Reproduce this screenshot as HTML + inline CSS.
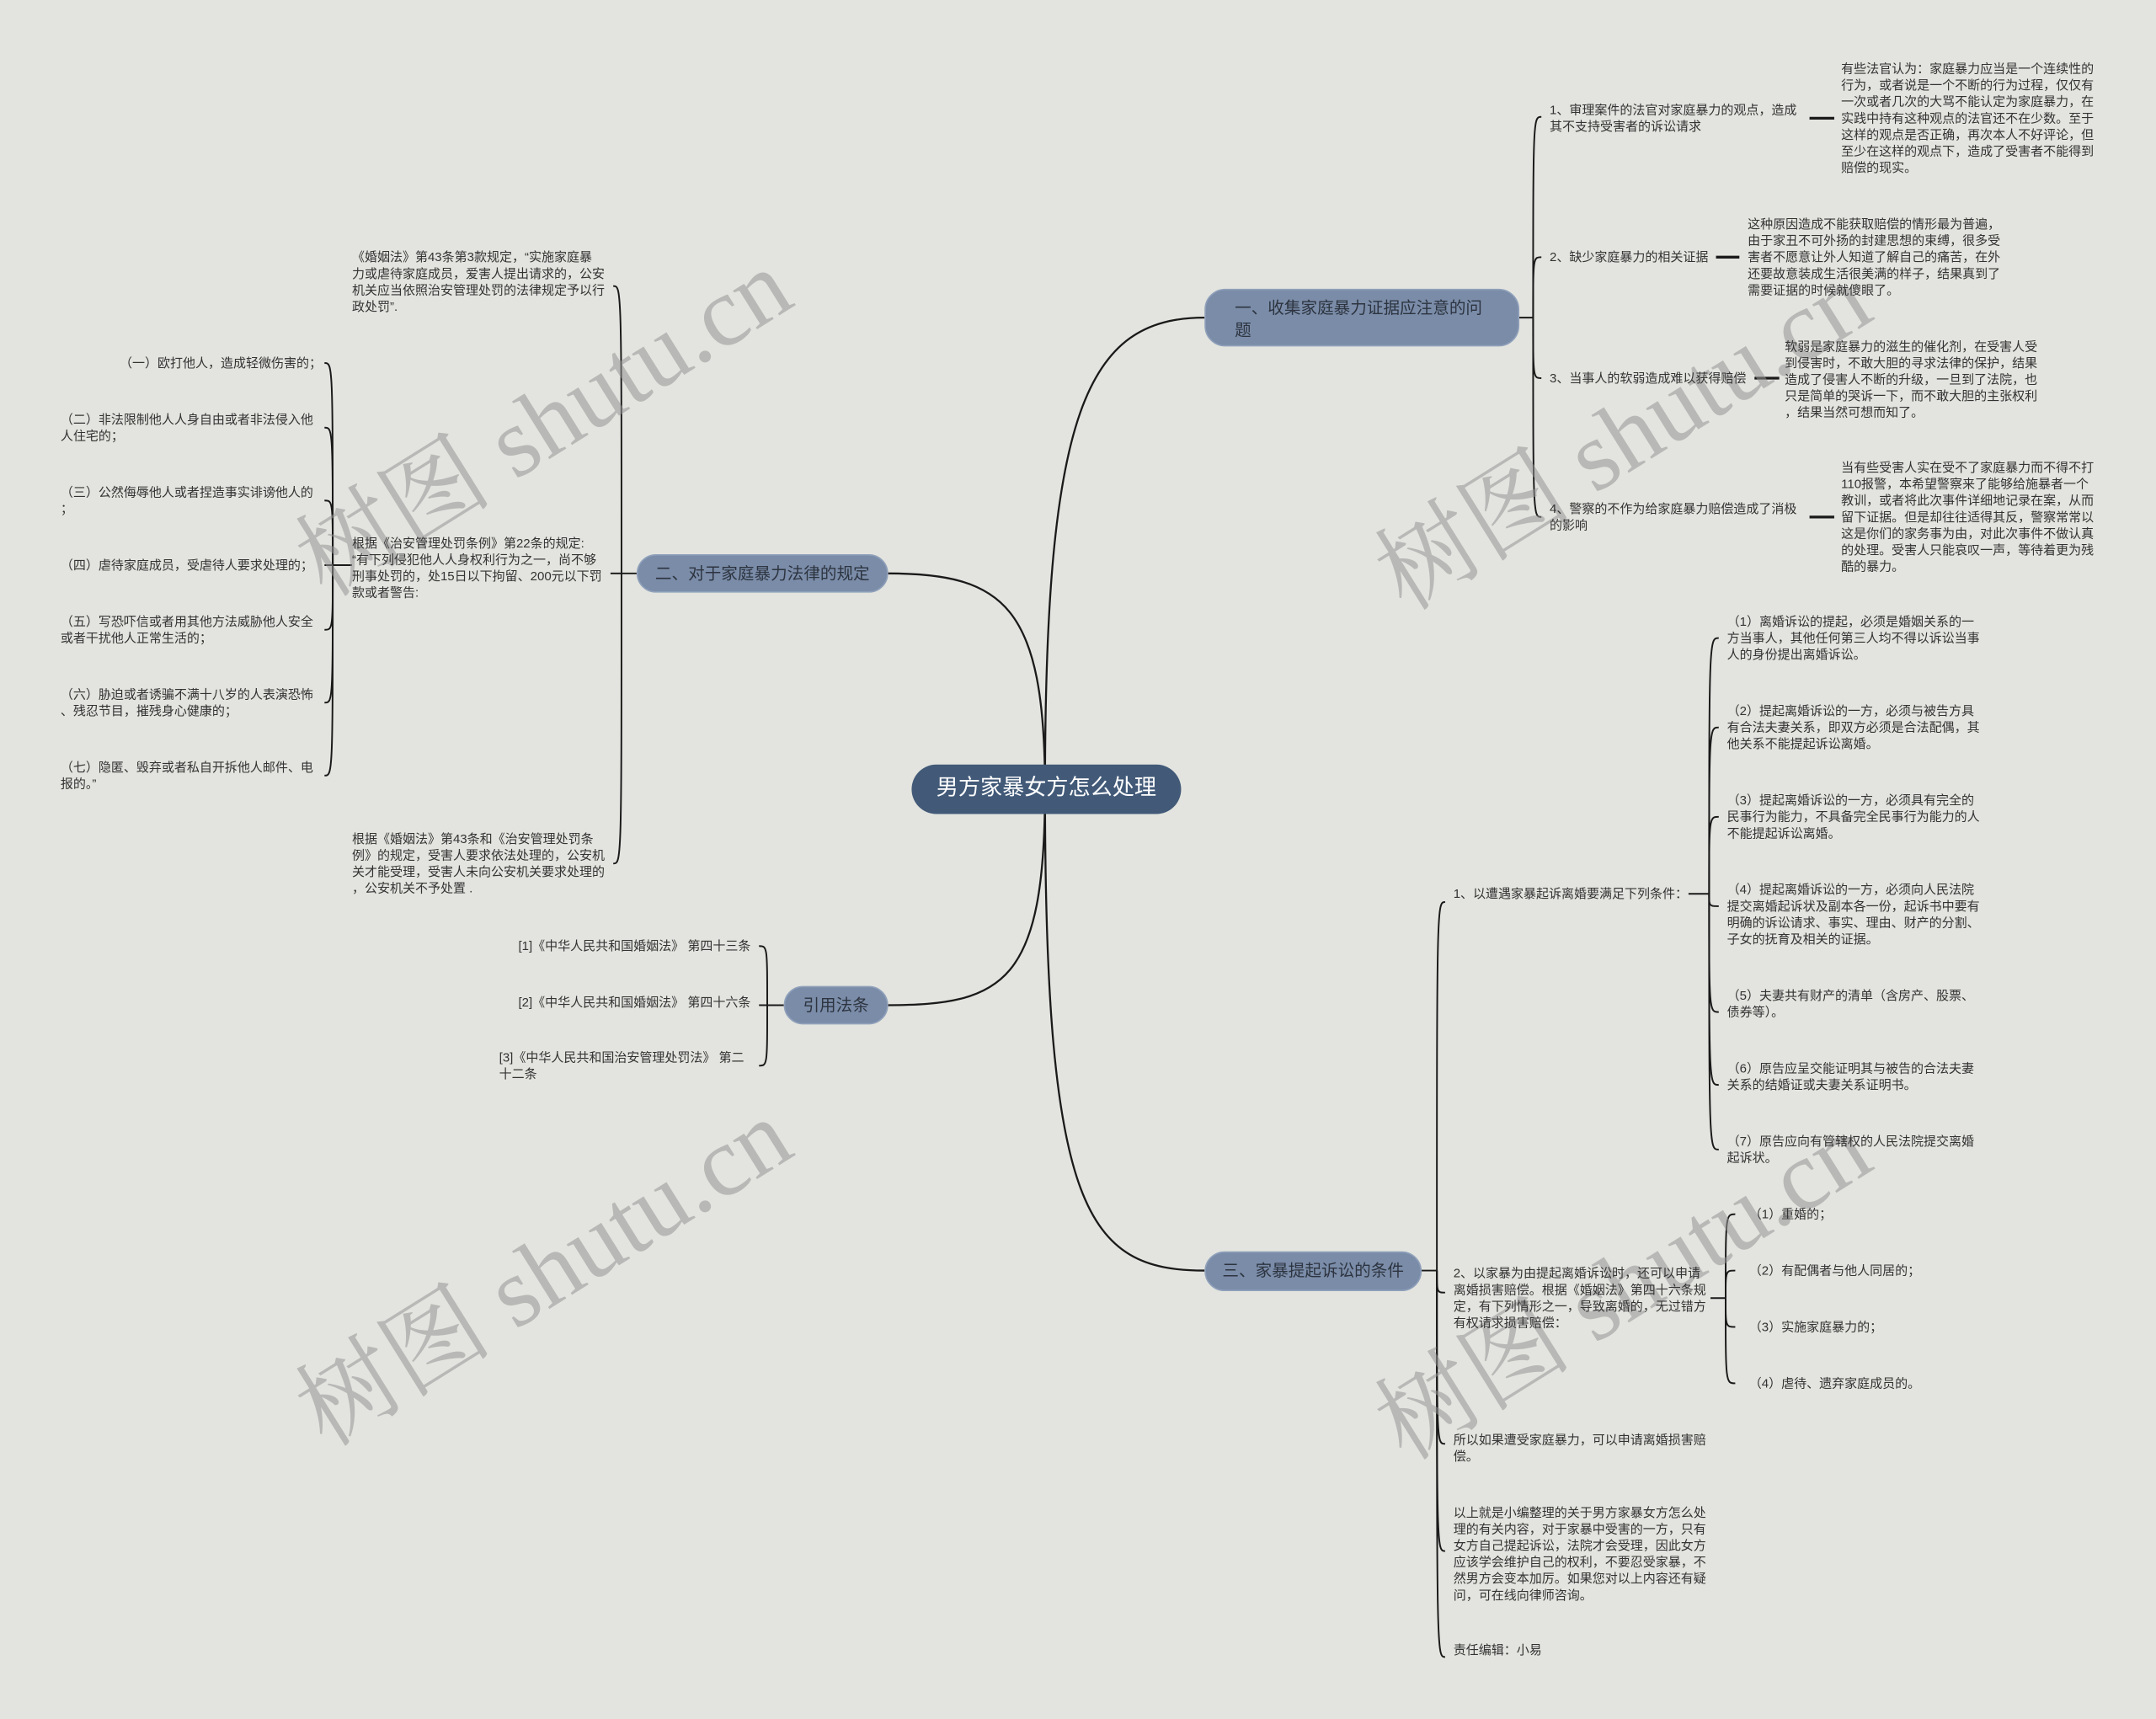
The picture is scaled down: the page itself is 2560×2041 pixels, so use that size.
<!DOCTYPE html>
<html><head><meta charset="utf-8">
<style>
html,body{margin:0;padding:0;}
body{width:2560px;height:2041px;overflow:hidden;background:#e3e4df;}
#c{position:absolute;left:0;top:0;width:1568px;height:1250px;transform:scale(1.632653);transform-origin:0 0;font-family:"Liberation Sans","Noto Sans CJK SC",sans-serif;color:#333;}
.t{position:absolute;font-size:9.2px;line-height:12px;white-space:nowrap;}
.n{position:absolute;background:#7a8ca8;border-radius:15px;font-size:12px;color:#2d3440;box-sizing:border-box;border:1px solid #8fa0ba;}
.wm{position:absolute;font-family:"Liberation Serif","Noto Serif CJK SC",serif;font-size:72px;color:rgba(150,150,150,0.55);white-space:nowrap;transform:rotate(-32deg);transform-origin:center;}
svg{position:absolute;left:0;top:0;}
</style></head><body><div id="c">
<svg width="1568" height="1250" viewBox="0 0 1568 1250" fill="none" stroke="#1a1a1a" stroke-width="1.4">
<path d="M760 574 C760 300 790 231 876 231"/>
<path d="M760 574 C760 440 730 417 645 417"/>
<path d="M760 574 C760 715 730 731 645 731"/>
<path d="M760 574 C760 880 790 924 876 924"/>
<g stroke-width="1.2">
<path d="M1104 231 H1115"/>
<path d="M1115 231 C1115 85 1115 85 1121 85"/>
<path d="M1115 231 C1115 187 1115 187 1121 187"/>
<path d="M1115 231 C1115 275 1115 275 1121 275"/>
<path d="M1115 231 C1115 376 1115 376 1121 376"/>
<path d="M463 417 H452"/>
<path d="M452 417 C452 208 452 208 446 208"/>
<path d="M452 417 H444"/>
<path d="M452 417 C452 628 452 628 446 628"/>
<path d="M256 411 H242"/>
<path d="M242 411 C242 264 242 264 236 264"/>
<path d="M242 411 C242 311 242 311 236 311"/>
<path d="M242 411 C242 364 242 364 236 364"/>
<path d="M242 411 H236"/>
<path d="M242 411 C242 458 242 458 236 458"/>
<path d="M242 411 C242 511 242 511 236 511"/>
<path d="M242 411 C242 564 242 564 236 564"/>
<path d="M570 731 H558"/>
<path d="M558 731 C558 688 558 688 552 688"/>
<path d="M558 731 H552"/>
<path d="M558 731 C558 775 558 775 552 775"/>
<path d="M1033 924 H1045"/>
<path d="M1045 924 C1045 656 1045 656 1051 656"/>
<path d="M1045 924 C1045 940 1045 940 1051 940"/>
<path d="M1045 924 C1045 1050 1045 1050 1051 1050"/>
<path d="M1045 924 C1045 1128 1045 1128 1051 1128"/>
<path d="M1045 924 C1045 1205 1045 1205 1051 1205"/>
<path d="M1228 650 H1243"/>
<path d="M1243 650 C1243 464 1243 464 1250 464"/>
<path d="M1243 650 C1243 529 1243 529 1250 529"/>
<path d="M1243 650 C1243 594 1243 594 1250 594"/>
<path d="M1243 650 C1243 659 1243 659 1250 659"/>
<path d="M1243 650 C1243 736 1243 736 1250 736"/>
<path d="M1243 650 C1243 789 1243 789 1250 789"/>
<path d="M1243 650 C1243 836 1243 836 1250 836"/>
<path d="M1244 944 H1255"/>
<path d="M1255 944 C1255 883 1255 883 1262 883"/>
<path d="M1255 944 C1255 924 1255 924 1262 924"/>
<path d="M1255 944 C1255 965 1255 965 1262 965"/>
<path d="M1255 944 C1255 1006 1255 1006 1262 1006"/>
</g>
<g stroke-width="2">
<path d="M1316 86 H1334"/>
<path d="M1248 187 H1265"/>
<path d="M1276 275 H1294"/>
<path d="M1316 376 H1334"/>
</g>
</svg>

<div class="wm" style="left:190px;top:250px;">树图 shutu.cn</div>
<div class="wm" style="left:975px;top:260px;">树图 shutu.cn</div>
<div class="wm" style="left:190px;top:868px;">树图 shutu.cn</div>
<div class="wm" style="left:975px;top:878px;">树图 shutu.cn</div>

<div style="position:absolute;left:663px;top:556px;width:196px;height:36px;background:#425a78;border-radius:18px;color:#fff;font-size:16px;line-height:36px;text-align:center;">男方家暴女方怎么处理</div>

<div class="n" style="left:876px;top:210px;width:229px;height:42px;padding:5px 0 0 21px;line-height:16px;">一、收集家庭暴力证据应注意的问<br>题</div>
<div class="n" style="left:463px;top:403px;width:183px;height:28px;line-height:26px;text-align:center;">二、对于家庭暴力法律的规定</div>
<div class="n" style="left:570px;top:717px;width:76px;height:28px;line-height:26px;text-align:center;">引用法条</div>
<div class="n" style="left:876px;top:910px;width:158px;height:29px;line-height:27px;text-align:center;">三、家暴提起诉讼的条件</div>

<div class="t" style="left:1127px;top:74px;">1、审理案件的法官对家庭暴力的观点，造成<br>其不支持受害者的诉讼请求</div>
<div class="t" style="left:1339px;top:44px;">有些法官认为：家庭暴力应当是一个连续性的<br>行为，或者说是一个不断的行为过程，仅仅有<br>一次或者几次的大骂不能认定为家庭暴力，在<br>实践中持有这种观点的法官还不在少数。至于<br>这样的观点是否正确，再次本人不好评论，但<br>至少在这样的观点下，造成了受害者不能得到<br>赔偿的现实。</div>
<div class="t" style="left:1127px;top:181px;">2、缺少家庭暴力的相关证据</div>
<div class="t" style="left:1271px;top:157px;">这种原因造成不能获取赔偿的情形最为普遍，<br>由于家丑不可外扬的封建思想的束缚，很多受<br>害者不愿意让外人知道了解自己的痛苦，在外<br>还要故意装成生活很美满的样子，结果真到了<br>需要证据的时候就傻眼了。</div>
<div class="t" style="left:1127px;top:269px;">3、当事人的软弱造成难以获得赔偿</div>
<div class="t" style="left:1298px;top:246px;">软弱是家庭暴力的滋生的催化剂，在受害人受<br>到侵害时，不敢大胆的寻求法律的保护，结果<br>造成了侵害人不断的升级，一旦到了法院，也<br>只是简单的哭诉一下，而不敢大胆的主张权利<br>，结果当然可想而知了。</div>
<div class="t" style="left:1127px;top:364px;">4、警察的不作为给家庭暴力赔偿造成了消极<br>的影响</div>
<div class="t" style="left:1339px;top:334px;">当有些受害人实在受不了家庭暴力而不得不打<br>110报警，本希望警察来了能够给施暴者一个<br>教训，或者将此次事件详细地记录在案，从而<br>留下证据。但是却往往适得其反，警察常常以<br>这是你们的家务事为由，对此次事件不做认真<br>的处理。受害人只能哀叹一声，等待着更为残<br>酷的暴力。</div>

<div class="t" style="left:256px;top:181px;">《婚姻法》第43条第3款规定，“实施家庭暴<br>力或虐待家庭成员，爱害人提出请求的，公安<br>机关应当依照治安管理处罚的法律规定予以行<br>政处罚”.</div>
<div class="t" style="left:256px;top:389px;">根据《治安管理处罚条例》第22条的规定:<br>“有下列侵犯他人人身权利行为之一，尚不够<br>刑事处罚的，处15日以下拘留、200元以下罚<br>款或者警告:</div>
<div class="t" style="left:256px;top:604px;">根据《婚姻法》第43条和《治安管理处罚条<br>例》的规定，受害人要求依法处理的，公安机<br>关才能受理，受害人未向公安机关要求处理的<br>，公安机关不予处置 .</div>

<div class="t" style="left:87px;top:258px;">（一）欧打他人，造成轻微伤害的；</div>
<div class="t" style="left:44px;top:299px;">（二）非法限制他人人身自由或者非法侵入他<br>人住宅的；</div>
<div class="t" style="left:44px;top:352px;">（三）公然侮辱他人或者捏造事实诽谤他人的<br>；</div>
<div class="t" style="left:44px;top:405px;">（四）虐待家庭成员，受虐待人要求处理的；</div>
<div class="t" style="left:44px;top:446px;">（五）写恐吓信或者用其他方法威胁他人安全<br>或者干扰他人正常生活的；</div>
<div class="t" style="left:44px;top:499px;">（六）胁迫或者诱骗不满十八岁的人表演恐怖<br>、残忍节目，摧残身心健康的；</div>
<div class="t" style="left:44px;top:552px;">（七）隐匿、毁弃或者私自开拆他人邮件、电<br>报的。”</div>

<div class="t" style="left:377px;top:682px;">[1]《中华人民共和国婚姻法》 第四十三条</div>
<div class="t" style="left:377px;top:723px;">[2]《中华人民共和国婚姻法》 第四十六条</div>
<div class="t" style="left:363px;top:763px;">[3]《中华人民共和国治安管理处罚法》 第二<br>十二条</div>

<div class="t" style="left:1057px;top:644px;">1、以遭遇家暴起诉离婚要满足下列条件：</div>
<div class="t" style="left:1256px;top:446px;">（1）离婚诉讼的提起，必须是婚姻关系的一<br>方当事人，其他任何第三人均不得以诉讼当事<br>人的身份提出离婚诉讼。</div>
<div class="t" style="left:1256px;top:511px;">（2）提起离婚诉讼的一方，必须与被告方具<br>有合法夫妻关系，即双方必须是合法配偶，其<br>他关系不能提起诉讼离婚。</div>
<div class="t" style="left:1256px;top:576px;">（3）提起离婚诉讼的一方，必须具有完全的<br>民事行为能力，不具备完全民事行为能力的人<br>不能提起诉讼离婚。</div>
<div class="t" style="left:1256px;top:641px;">（4）提起离婚诉讼的一方，必须向人民法院<br>提交离婚起诉状及副本各一份，起诉书中要有<br>明确的诉讼请求、事实、理由、财产的分割、<br>子女的抚育及相关的证据。</div>
<div class="t" style="left:1256px;top:718px;">（5）夫妻共有财产的清单（含房产、股票、<br>债券等）。</div>
<div class="t" style="left:1256px;top:771px;">（6）原告应呈交能证明其与被告的合法夫妻<br>关系的结婚证或夫妻关系证明书。</div>
<div class="t" style="left:1256px;top:824px;">（7）原告应向有管辖权的人民法院提交离婚<br>起诉状。</div>

<div class="t" style="left:1057px;top:920px;">2、以家暴为由提起离婚诉讼时，还可以申请<br>离婚损害赔偿。根据《婚姻法》第四十六条规<br>定，有下列情形之一，导致离婚的，无过错方<br>有权请求损害赔偿：</div>
<div class="t" style="left:1272px;top:877px;">（1）重婚的；</div>
<div class="t" style="left:1272px;top:918px;">（2）有配偶者与他人同居的；</div>
<div class="t" style="left:1272px;top:959px;">（3）实施家庭暴力的；</div>
<div class="t" style="left:1272px;top:1000px;">（4）虐待、遗弃家庭成员的。</div>

<div class="t" style="left:1057px;top:1041px;">所以如果遭受家庭暴力，可以申请离婚损害赔<br>偿。</div>
<div class="t" style="left:1057px;top:1094px;">以上就是小编整理的关于男方家暴女方怎么处<br>理的有关内容，对于家暴中受害的一方，只有<br>女方自己提起诉讼，法院才会受理，因此女方<br>应该学会维护自己的权利，不要忍受家暴，不<br>然男方会变本加厉。如果您对以上内容还有疑<br>问，可在线向律师咨询。</div>
<div class="t" style="left:1057px;top:1194px;">责任编辑：小易</div>
</div></body></html>
